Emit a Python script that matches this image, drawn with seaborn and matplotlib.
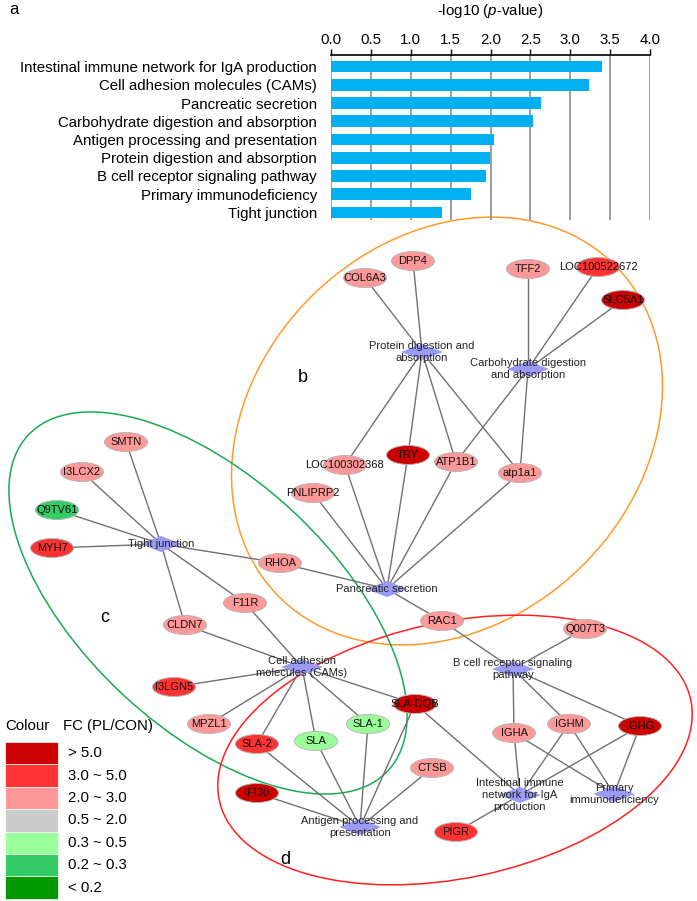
import numpy as np
import pandas as pd
import matplotlib.pyplot as plt
import seaborn as sns
from matplotlib.patches import Ellipse, Polygon, Rectangle

plt.rcParams['font.family'] = ['Liberation Sans', 'DejaVu Sans']
plt.rcParams['mathtext.fontset'] = 'custom'
plt.rcParams['mathtext.rm'] = 'Liberation Sans'
plt.rcParams['mathtext.it'] = 'Liberation Sans:italic'

# ---- panel a: KEGG enrichment ----
pathways = ["Intestinal immune network for IgA production",
            "Cell adhesion molecules (CAMs)",
            "Pancreatic secretion",
            "Carbohydrate digestion and absorption",
            "Antigen processing and presentation",
            "Protein digestion and absorption",
            "B cell receptor signaling pathway",
            "Primary immunodeficiency",
            "Tight junction"]
neglog_p = [3.40, 3.23, 2.63, 2.53, 2.04, 1.99, 1.94, 1.76, 1.39]

# ---- fold change classes ----
fc_labels = ["> 5.0", "3.0 ~ 5.0", "2.0 ~ 3.0", "0.5 ~ 2.0", "0.3 ~ 0.5", "0.2 ~ 0.3", "< 0.2"]
fc_colors = ["#cc0000", "#ff3333", "#ff9999", "#cccccc", "#99ff99", "#33cc66", "#009900"]

# ---- network nodes ----
genes = ["COL6A3", "DPP4", "TFF2", "LOC100522672", "SLC5A1", "TRY", "ATP1B1", "atp1a1",
         "LOC100302368", "PNLIPRP2", "SMTN", "I3LCX2", "Q9TV61", "MYH7", "RHOA", "F11R",
         "CLDN7", "RAC1", "Q007T3", "I3LGN5", "MPZL1", "SLA-2", "SLA", "SLA-1", "SLA-DQB",
         "CTSB", "IFI30", "PIGR", "IGHA", "IGHM", "IGHG"]
gene_fc = ["2.0 ~ 3.0", "2.0 ~ 3.0", "2.0 ~ 3.0", "3.0 ~ 5.0", "> 5.0", "> 5.0", "2.0 ~ 3.0", "2.0 ~ 3.0",
           "2.0 ~ 3.0", "2.0 ~ 3.0", "2.0 ~ 3.0", "2.0 ~ 3.0", "0.2 ~ 0.3", "3.0 ~ 5.0", "2.0 ~ 3.0", "2.0 ~ 3.0",
           "2.0 ~ 3.0", "2.0 ~ 3.0", "2.0 ~ 3.0", "3.0 ~ 5.0", "2.0 ~ 3.0", "3.0 ~ 5.0", "0.3 ~ 0.5", "0.3 ~ 0.5", "> 5.0",
           "2.0 ~ 3.0", "> 5.0", "3.0 ~ 5.0", "2.0 ~ 3.0", "2.0 ~ 3.0", "> 5.0"]

# layout (pixel coordinates of the figure)
gene_pos = {
    "COL6A3": (365, 278), "DPP4": (413, 261), "TFF2": (528, 269), "LOC100522672": (598, 267),
    "SLC5A1": (623, 300), "TRY": (408, 455), "ATP1B1": (456, 462), "atp1a1": (520, 473),
    "LOC100302368": (345, 465), "PNLIPRP2": (313, 493), "SMTN": (126, 442), "I3LCX2": (82, 472),
    "Q9TV61": (57, 510), "MYH7": (52, 548), "RHOA": (280, 563), "F11R": (245, 603),
    "CLDN7": (185, 625), "RAC1": (442, 621), "Q007T3": (585, 629), "I3LGN5": (174, 687),
    "MPZL1": (209, 724), "SLA-2": (257, 744), "SLA": (316, 741), "SLA-1": (368, 724),
    "SLA-DQB": (415, 704), "CTSB": (432, 768), "IFI30": (257, 793), "PIGR": (456, 832),
    "IGHA": (514, 733), "IGHM": (569, 724), "IGHG": (640, 726),
}
path_nodes = {
    "Protein digestion and\nabsorption": (422, 352),
    "Carbohydrate digestion\nand absorption": (528, 369),
    "Pancreatic secretion": (387, 589),
    "Tight junction": (161, 544),
    "Cell adhesion\nmolecules (CAMs)": (302, 667),
    "B cell receptor signaling\npathway": (513, 669),
    "Intestinal immune\nnetwork for IgA\nproduction": (520, 795),
    "Primary\nimmunodeficiency": (614, 794),
    "Antigen processing and\npresentation": (360, 827),
}
edges = {
    "Protein digestion and\nabsorption": ["COL6A3", "DPP4", "LOC100302368", "TRY", "ATP1B1", "atp1a1"],
    "Carbohydrate digestion\nand absorption": ["TFF2", "LOC100522672", "SLC5A1", "ATP1B1", "atp1a1"],
    "Pancreatic secretion": ["PNLIPRP2", "LOC100302368", "TRY", "ATP1B1", "atp1a1", "RHOA", "RAC1"],
    "Tight junction": ["SMTN", "I3LCX2", "Q9TV61", "MYH7", "RHOA", "F11R", "CLDN7"],
    "Cell adhesion\nmolecules (CAMs)": ["CLDN7", "F11R", "I3LGN5", "MPZL1", "SLA-2", "SLA", "SLA-1", "SLA-DQB"],
    "B cell receptor signaling\npathway": ["RAC1", "Q007T3", "IGHA", "IGHM", "IGHG"],
    "Intestinal immune\nnetwork for IgA\nproduction": ["SLA-DQB", "IGHA", "IGHM", "IGHG", "PIGR"],
    "Primary\nimmunodeficiency": ["IGHA", "IGHM", "IGHG"],
    "Antigen processing and\npresentation": ["SLA-2", "SLA", "SLA-1", "SLA-DQB", "CTSB", "IFI30"],
}

W, H = 697, 901
fig = plt.figure(figsize=(W / 100, H / 100), dpi=100)

# ---- network canvas ----
net = fig.add_axes([0, 0, 1, 1])
net.set_xlim(0, W)
net.set_ylim(H, 0)
net.axis("off")

# group outlines
net.add_patch(Ellipse((447, 431), 472, 382, angle=-44, fill=False, ec="#ff9a2a", lw=1.1))
net.add_patch(Ellipse((208, 603), 492, 250, angle=43, fill=False, ec="#1aaa50", lw=1.1))
net.add_patch(Ellipse((455, 750), 482, 256, angle=-12, fill=False, ec="#ff2020", lw=1.1))

for p, glist in edges.items():
    px, py = path_nodes[p]
    for g in glist:
        gx, gy = gene_pos[g]
        net.plot([px, gx], [py, gy], color="#707070", lw=1.0, zorder=2)

color_of = dict(zip(fc_labels, fc_colors))
for g, fc in zip(genes, gene_fc):
    x, y = gene_pos[g]
    net.add_patch(Ellipse((x, y), 43, 19, fc=color_of[fc], ec="#b5b5b5", lw=0.7, zorder=3))
    net.text(x, y, g, ha="center", va="center", fontsize=8, color="#111111", zorder=5)

for p, (x, y) in path_nodes.items():
    net.add_patch(Polygon([(x - 21, y), (x, y - 8), (x + 21, y), (x, y + 8)],
                          closed=True, fc="#9b9bf5", ec="none", zorder=3))
    net.text(x, y, p, ha="center", va="center", fontsize=8, color="#222222",
             linespacing=1.3, zorder=5)

# panel letters
net.text(14, 10, "a", fontsize=12, ha="center", va="center")
net.text(303, 377, "b", fontsize=13, ha="center", va="center")
net.text(105, 617, "c", fontsize=13, ha="center", va="center")
net.text(285, 859, "d", fontsize=13, ha="center", va="center")

# legend
net.text(5, 726, "Colour", fontsize=10.8, ha="left", va="center")
net.text(63, 726, "FC (PL/CON)", fontsize=10.8, ha="left", va="center")
for i, (lab, col) in enumerate(zip(fc_labels, fc_colors)):
    top = 742 + i * 22.4
    net.add_patch(Rectangle((5, top), 53, 22.4, fc=col, ec="white", lw=0.5))
    net.text(68, top + 11.2, lab, fontsize=10.8, ha="left", va="center")

# ---- bar chart ----
x0, x1, y0, y1 = 331, 650, 55, 220
bar_ax = fig.add_axes([x0 / W, 1 - y1 / H, (x1 - x0) / W, (y1 - y0) / H])
bar_ax.set_facecolor("none")
df = pd.DataFrame({"pathway": pathways, "score": neglog_p})
sns.barplot(data=df, x="score", y="pathway", color="#00b0f0", saturation=1,
            width=0.64, ax=bar_ax, zorder=3)
bar_ax.set_xlim(0, 4)
bar_ax.set_ylim(8.42, -0.64)
bar_ax.set_xticks(np.arange(0, 4.01, 0.5))
bar_ax.set_xticklabels([f"{v:.1f}" for v in np.arange(0, 4.01, 0.5)])
bar_ax.xaxis.tick_top()
bar_ax.tick_params(axis="x", length=4, width=1, labelsize=10.8, pad=2, color="black")
bar_ax.tick_params(axis="y", length=0, labelsize=10.8, pad=10)
bar_ax.xaxis.grid(True, color="#8c8c8c", lw=1.2)
bar_ax.set_axisbelow(True)
for s in ["bottom", "left", "right"]:
    bar_ax.spines[s].set_visible(False)
bar_ax.spines["top"].set_linewidth(1.2)
bar_ax.set_xlabel("")
bar_ax.set_ylabel("")
fig.text(490 / W, 1 - 11 / H, r"-log10 ($p$-value)", fontsize=10.8, ha="center", va="center")

fig.savefig("out.png", dpi=100)
